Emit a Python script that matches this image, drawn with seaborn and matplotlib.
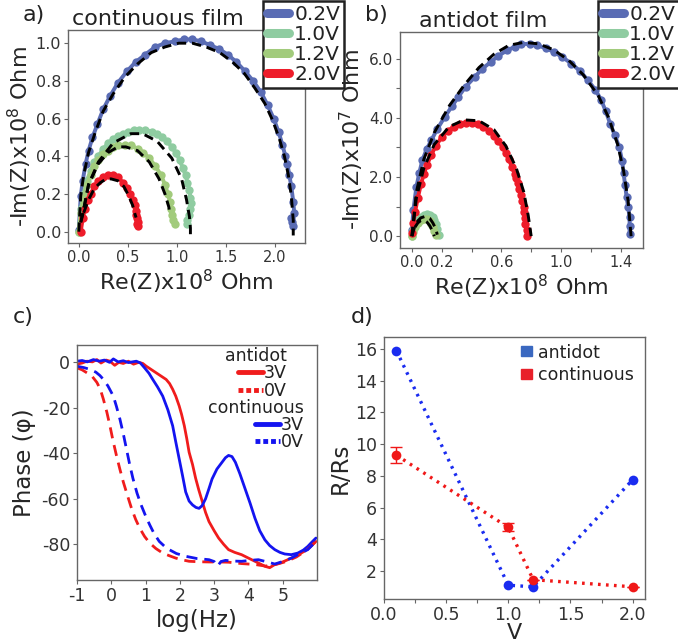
import numpy as np
import pandas as pd
import matplotlib
matplotlib.use("Agg")
import matplotlib.pyplot as plt
import seaborn as sns
from matplotlib.lines import Line2D
from matplotlib.patches import Patch

sns.set_theme(style="ticks")
plt.rcParams['font.family'] = ['DejaVu Sans', 'DejaVu Sans']
plt.rcParams['mathtext.default'] = 'regular'

# ---------------- Panel a: continuous film (x in 1e8 Ohm, y in 1e8 Ohm)
a02_x = [0.00, 0.02, 0.04, 0.07, 0.10, 0.14, 0.19, 0.25, 0.32, 0.40, 0.49, 0.58, 0.68, 0.78, 0.88, 0.98,
         1.07, 1.16, 1.25, 1.34, 1.43, 1.52, 1.61, 1.70, 1.78, 1.86, 1.93, 1.99, 2.04, 2.08, 2.11, 2.13,
         2.15, 2.17, 2.19, 2.20, 2.17, 2.18, 2.19]
a02_y = [0.01, 0.19, 0.27, 0.36, 0.43, 0.50, 0.57, 0.65, 0.72, 0.79, 0.85, 0.90, 0.94, 0.98, 1.00, 1.01,
         1.02, 1.02, 1.01, 0.99, 0.97, 0.94, 0.90, 0.85, 0.80, 0.74, 0.67, 0.60, 0.53, 0.46, 0.40, 0.36,
         0.30, 0.24, 0.16, 0.10, 0.07, 0.05, 0.03]
a02f_x = [0.00, 0.02, 0.05, 0.10, 0.17, 0.25, 0.35, 0.47, 0.60, 0.74, 0.88, 1.02, 1.16, 1.30, 1.44, 1.57,
          1.69, 1.80, 1.90, 1.98, 2.05, 2.10, 2.14, 2.17, 2.19, 2.19]
a02f_y = [0.00, 0.19, 0.30, 0.42, 0.53, 0.64, 0.73, 0.82, 0.89, 0.95, 0.98, 1.00, 1.00, 0.98, 0.95, 0.90,
          0.84, 0.76, 0.68, 0.59, 0.49, 0.40, 0.30, 0.19, 0.06, -0.02]

a10_x = [0.00, 0.02, 0.05, 0.08, 0.12, 0.16, 0.20, 0.25, 0.30, 0.35, 0.40, 0.45, 0.50, 0.56, 0.62, 0.68,
         0.75, 0.80, 0.85, 0.90, 0.95, 0.99, 1.03, 1.06, 1.09, 1.11, 1.13, 1.14, 1.15, 1.14, 1.13, 1.11, 1.10]
a10_y = [0.00, 0.12, 0.20, 0.27, 0.32, 0.37, 0.40, 0.44, 0.47, 0.49, 0.51, 0.52, 0.53, 0.54, 0.54, 0.54,
         0.53, 0.52, 0.50, 0.48, 0.45, 0.42, 0.38, 0.34, 0.30, 0.26, 0.22, 0.18, 0.15, 0.12, 0.09, 0.06, 0.04]
a10f_x = [0.02, 0.04, 0.10, 0.20, 0.35, 0.53, 0.65, 0.80, 0.95, 1.05, 1.10, 1.13, 1.14, 1.14]
a10f_y = [0.05, 0.09, 0.25, 0.37, 0.47, 0.52, 0.52, 0.48, 0.39, 0.28, 0.17, 0.08, 0.02, -0.02]

a12_x = [0.00, 0.02, 0.05, 0.08, 0.12, 0.16, 0.20, 0.25, 0.30, 0.35, 0.40, 0.47, 0.53, 0.60, 0.66, 0.72,
         0.78, 0.84, 0.88, 0.91, 0.93, 0.94, 0.95, 0.96, 0.98]
a12_y = [0.00, 0.10, 0.18, 0.25, 0.30, 0.35, 0.38, 0.41, 0.43, 0.45, 0.46, 0.46, 0.46, 0.44, 0.42, 0.39,
         0.35, 0.30, 0.25, 0.20, 0.16, 0.12, 0.09, 0.06, 0.04]
a12f_x = [0.02, 0.05, 0.10, 0.20, 0.30, 0.40, 0.48, 0.60, 0.72, 0.82, 0.88, 0.92, 0.93]
a12f_y = [0.05, 0.12, 0.25, 0.36, 0.42, 0.45, 0.45, 0.43, 0.37, 0.28, 0.20, 0.13, 0.09]

a20_x = [0.02, 0.04, 0.06, 0.09, 0.12, 0.16, 0.20, 0.25, 0.30, 0.35, 0.40, 0.45, 0.49, 0.52, 0.55, 0.57,
         0.58, 0.58, 0.59, 0.60, 0.59, 0.60]
a20_y = [0.00, 0.07, 0.12, 0.17, 0.20, 0.24, 0.27, 0.29, 0.30, 0.30, 0.29, 0.26, 0.23, 0.20, 0.17, 0.14,
         0.11, 0.09, 0.07, 0.05, 0.04, 0.03]
a20f_x = [0.05, 0.10, 0.16, 0.22, 0.28, 0.33, 0.40, 0.46, 0.51, 0.55, 0.57, 0.585]
a20f_y = [0.10, 0.17, 0.23, 0.26, 0.28, 0.28, 0.27, 0.24, 0.19, 0.14, 0.10, 0.075]

# ---------------- Panel b: antidot film (x in 1e8 Ohm, y in 1e7 Ohm)
b02_x = [0.00, 0.01, 0.03, 0.05, 0.07, 0.10, 0.13, 0.17, 0.22, 0.27, 0.31, 0.36, 0.42, 0.47, 0.53, 0.58,
         0.64, 0.69, 0.73, 0.79, 0.84, 0.90, 0.95, 1.01, 1.07, 1.13, 1.18, 1.23, 1.27, 1.30, 1.33, 1.36,
         1.39, 1.41, 1.42, 1.43, 1.44, 1.45, 1.46, 1.46, 1.46]
b02_y = [0.20, 0.90, 1.67, 2.15, 2.57, 2.95, 3.24, 3.62, 4.03, 4.40, 4.70, 5.05, 5.37, 5.65, 5.89, 6.10,
         6.28, 6.40, 6.49, 6.50, 6.45, 6.35, 6.23, 6.05, 5.83, 5.57, 5.27, 4.95, 4.60, 4.22, 3.80, 3.42,
         3.02, 2.55, 2.12, 1.72, 1.33, 0.98, 0.65, 0.35, 0.09]
b02f_x = [0.00, 0.03, 0.08, 0.15, 0.25, 0.35, 0.45, 0.55, 0.65, 0.75, 0.85, 0.95, 1.05, 1.15, 1.25, 1.32,
          1.38, 1.42, 1.45, 1.47]
b02f_y = [0.00, 1.50, 2.60, 3.50, 4.40, 5.10, 5.70, 6.15, 6.45, 6.55, 6.50, 6.30, 5.95, 5.45, 4.75, 4.00,
          3.10, 2.20, 1.20, 0.00]

b10_x = [0.00, 0.01, 0.02, 0.04, 0.06, 0.08, 0.10, 0.12, 0.14, 0.15, 0.16, 0.17, 0.18]
b10_y = [0.00, 0.20, 0.38, 0.55, 0.66, 0.73, 0.76, 0.73, 0.64, 0.55, 0.42, 0.25, 0.05]
b10f_x = [0.00, 0.02, 0.04, 0.06, 0.09, 0.12, 0.14, 0.16, 0.17]
b10f_y = [0.00, 0.35, 0.52, 0.62, 0.67, 0.60, 0.45, 0.25, 0.05]
b12_x = [0.00, 0.01, 0.02, 0.04, 0.06, 0.08, 0.10, 0.12, 0.13, 0.14, 0.15, 0.16]
b12_y = [0.00, 0.15, 0.30, 0.45, 0.54, 0.58, 0.57, 0.50, 0.40, 0.30, 0.18, 0.05]
b12f_x = [0.02, 0.04, 0.06, 0.08, 0.10, 0.12, 0.14, 0.15]
b12f_y = [0.30, 0.45, 0.53, 0.55, 0.48, 0.35, 0.15, 0.00]

b20_x = [0.00, 0.01, 0.02, 0.04, 0.06, 0.08, 0.10, 0.13, 0.16, 0.20, 0.24, 0.28, 0.32, 0.36, 0.40, 0.44,
         0.48, 0.52, 0.55, 0.58, 0.61, 0.63, 0.65, 0.67, 0.69, 0.70, 0.71, 0.72, 0.73, 0.74, 0.75, 0.75,
         0.76, 0.76, 0.77, 0.77]
b20_y = [0.10, 0.45, 0.80, 1.30, 1.75, 2.10, 2.40, 2.75, 3.05, 3.35, 3.55, 3.70, 3.78, 3.82, 3.82, 3.78,
         3.68, 3.55, 3.40, 3.22, 3.00, 2.80, 2.60, 2.35, 2.10, 1.95, 1.78, 1.60, 1.40, 1.20, 1.00, 0.80,
         0.60, 0.40, 0.20, 0.00]
b20f_x = [0.00, 0.03, 0.08, 0.15, 0.25, 0.35, 0.45, 0.55, 0.63, 0.70, 0.75, 0.78, 0.80]
b20f_y = [0.00, 1.30, 2.30, 3.10, 3.70, 3.93, 3.90, 3.60, 3.05, 2.30, 1.50, 0.70, 0.00]

# ---------------- Panel c: phase vs log frequency
c_ad3_x = [-1.0, -0.85, -0.71, -0.55, -0.42, -0.30, -0.15, -0.04, 0.10, 0.22, 0.35, 0.50, 0.65, 0.80,
           0.92, 1.02, 1.15, 1.31, 1.45, 1.60, 1.70, 1.79, 1.88, 1.98, 2.05, 2.13, 2.20, 2.27, 2.37, 2.46,
           2.55, 2.65, 2.75, 2.85, 3.00, 3.13, 3.28, 3.42, 3.60, 3.80, 4.00, 4.19, 4.35, 4.48, 4.62, 4.77,
           4.95, 5.15, 5.40, 5.63, 5.80, 5.97]
c_ad3_y = [-1.0, -0.5, 0.3, 0.0, 1.0, -0.5, 0.8, 0.3, -1.5, -0.2, -0.7, 0.3, -1.0, -0.2, -0.7, -1.9,
           -3.2, -4.8, -6.2, -7.7, -9.5, -12.0, -15.0, -19.3, -23.0, -28.0, -33.5, -39.6, -45.0, -51.0,
           -56.0, -61.0, -66.0, -70.0, -74.0, -77.2, -80.0, -82.3, -83.5, -84.5, -86.0, -87.4, -88.6,
           -89.6, -90.2, -88.8, -88.0, -86.7, -85.0, -83.0, -81.0, -78.7]
c_co3_x = [-1.0, -0.85, -0.70, -0.52, -0.35, -0.20, -0.05, 0.06, 0.20, 0.35, 0.50, 0.73, 0.85, 0.97,
           1.10, 1.21, 1.35, 1.50, 1.65, 1.79, 1.88, 1.98, 2.08, 2.17, 2.27, 2.37, 2.47, 2.56, 2.65, 2.75,
           2.85, 2.94, 3.08, 3.23, 3.33, 3.42, 3.52, 3.62, 3.75, 3.90, 4.05, 4.19, 4.33, 4.48, 4.62, 4.77,
           4.92, 5.06, 5.25, 5.44, 5.60, 5.73, 5.85, 5.97]
c_co3_y = [0.3, 0.6, 0.0, 1.0, 0.3, 0.8, -0.2, 1.3, 0.0, 0.5, -0.3, 0.3, -0.5, -2.6, -5.0, -7.7, -11.0,
           -15.0, -21.0, -28.0, -35.0, -42.5, -50.0, -57.0, -61.0, -62.7, -63.8, -64.2, -63.0, -60.0, -55.5,
           -51.3, -47.0, -44.0, -42.0, -41.0, -41.5, -44.0, -49.0, -55.5, -62.0, -68.5, -74.0, -78.0,
           -80.5, -82.3, -83.5, -84.2, -84.5, -83.8, -82.5, -80.9, -79.0, -77.2]
c_ad0_x = [-1.0, -0.85, -0.71, -0.55, -0.42, -0.32, -0.23, -0.13, -0.04, 0.05, 0.15, 0.25, 0.35, 0.47,
           0.59, 0.71, 0.83, 0.97, 1.12, 1.30, 1.50, 1.70, 1.88, 2.08, 2.27, 2.55, 2.85, 3.15, 3.42, 3.80,
           4.19, 4.50, 4.80, 5.10, 5.40, 5.70, 5.95]
c_ad0_y = [-2.6, -3.5, -4.8, -6.5, -9.0, -12.0, -16.4, -22.0, -28.0, -34.5, -41.0, -47.0, -52.6, -58.5,
           -64.2, -69.0, -72.9, -76.5, -79.4, -81.8, -83.8, -85.0, -86.0, -86.8, -87.4, -87.6, -87.7,
           -87.7, -87.8, -88.4, -88.8, -89.5, -88.8, -87.5, -85.5, -82.5, -79.0]
c_co0_x = [-1.0, -0.80, -0.62, -0.45, -0.33, -0.23, -0.10, 0.06, 0.15, 0.25, 0.35, 0.44, 0.53, 0.63, 0.75,
           0.87, 1.00, 1.12, 1.25, 1.40, 1.55, 1.69, 1.90, 2.17, 2.50, 2.85, 3.00, 3.10, 3.20, 3.33, 3.55,
           3.80, 4.05, 4.29, 4.50, 4.77, 5.00, 5.25, 5.50, 5.73, 5.97]
c_co0_y = [-1.9, -2.5, -3.3, -4.5, -6.0, -7.7, -10.5, -15.0, -19.5, -25.0, -31.5, -38.0, -44.5, -51.0,
           -57.5, -62.7, -67.5, -71.4, -75.3, -78.7, -80.8, -82.3, -84.0, -85.2, -86.2, -86.7, -87.5, -89.5,
           -87.5, -87.0, -87.3, -87.4, -87.0, -86.7, -87.5, -88.6, -87.5, -86.0, -84.0, -82.3, -78.7]

# ---------------- Panel d: R/Rs vs V
d_v = [0.1, 1.0, 1.2, 2.0]
d_antidot = [15.9, 1.1, 1.0, 7.75]
d_cont = [9.3, 4.75, 1.45, 1.0]
d_cont_err = [0.5, 0.25, 0.0, 0.0]

volt_labels = ['0.2V', '1.0V', '1.2V', '2.0V']
c_blue, c_g1, c_g2, c_red = '#5a6cb4', '#8fcca1', '#a2cb7c', '#ee1c2a'
nyq_colors = [c_blue, c_g1, c_g2, c_red]

W, H = 678, 642
fig = plt.figure(figsize=(W / 100, H / 100), dpi=100)


def add_axes(l, t, r, b):
    return fig.add_axes([l / W, 1 - b / H, (r - l) / W, (b - t) / H])


axa = add_axes(68, 30, 305, 243)
axb = add_axes(400, 32, 643, 248)
axc = add_axes(77, 345, 317, 580)
axd = add_axes(384, 337, 645, 599)

spine_col = '#666666'
for ax in (axa, axb, axc, axd):
    for s in ax.spines.values():
        s.set_visible(True)
        s.set_color(spine_col)
        s.set_linewidth(1.0)
    ax.tick_params(length=3, width=0.8, color=spine_col, labelcolor='#333333', pad=2)


def data_curve(ax, xs, ys, color):
    sns.lineplot(x=xs, y=ys, sort=False, estimator=None, ax=ax, color=color, lw=2.8,
                 marker='o', markersize=6, markeredgewidth=0, legend=False, zorder=2)


def fit_curve(ax, xs, ys):
    sns.lineplot(x=xs, y=ys, sort=False, estimator=None, ax=ax, color='black', lw=2.1,
                 linestyle=(0, (3.2, 2.0)), legend=False, zorder=3)


# panel a
for (xs, ys), col in zip([(a02_x, a02_y), (a10_x, a10_y), (a12_x, a12_y), (a20_x, a20_y)], nyq_colors):
    data_curve(axa, xs, ys, col)
for xs, ys in [(a02f_x, a02f_y), (a10f_x, a10f_y), (a12f_x, a12f_y), (a20f_x, a20f_y)]:
    fit_curve(axa, xs, ys)
axa.set_xlim(-0.11, 2.31)
axa.set_ylim(-0.06, 1.07)
axa.set_xticks([0.0, 0.5, 1.0, 1.5, 2.0])
axa.set_yticks([0.0, 0.2, 0.4, 0.6, 0.8, 1.0])
axa.set_xticklabels(['0.0', '0.5', '1.0', '1.5', '2.0'], fontsize=10.5)
axa.set_yticklabels(['0.0', '0.2', '0.4', '0.6', '0.8', '1.0'], fontsize=11.5)
axa.set_xlabel('Re(Z)x10$^8$ Ohm', fontsize=16, labelpad=2)
axa.set_ylabel('-Im(Z)x10$^8$ Ohm', fontsize=16, labelpad=1)

# panel b
for (xs, ys), col in zip([(b02_x, b02_y), (b10_x, b10_y), (b12_x, b12_y), (b20_x, b20_y)], nyq_colors):
    data_curve(axb, xs, ys, col)
for xs, ys in [(b02f_x, b02f_y), (b10f_x, b10f_y), (b12f_x, b12f_y), (b20f_x, b20f_y)]:
    fit_curve(axb, xs, ys)
axb.set_xlim(-0.08, 1.55)
axb.set_ylim(-0.4, 6.9)
axb.set_xticks([0.0, 0.2, 0.4, 0.6, 0.8, 1.0, 1.2, 1.4])
axb.set_xticklabels(['0.0', '0.2', '', '0.6', '', '1.0', '', '1.4'], fontsize=10.5)
axb.set_yticks([0, 1, 2, 3, 4, 5, 6])
axb.set_yticklabels(['0.0', '', '2.0', '', '4.0', '', '6.0'], fontsize=11)
axb.set_xlabel('Re(Z)x10$^8$ Ohm', fontsize=16, labelpad=2)
axb.set_ylabel('-Im(Z)x10$^7$ Ohm', fontsize=16, labelpad=2)

# legends a, b
leg_handles = [Line2D([], [], color=c, lw=6.5) for c in nyq_colors]
for ax, x0 in ((axa, 263), (axb, 598)):
    lg = ax.legend(leg_handles, volt_labels, loc='upper left', bbox_to_anchor=(x0 / W, 1 - 1 / H),
                   bbox_transform=fig.transFigure, borderaxespad=0, fontsize=14.5, handlelength=1.1,
                   handletextpad=0.25, labelspacing=0.05, borderpad=0.2, frameon=True,
                   fancybox=False, framealpha=1.0)
    lg.get_frame().set_edgecolor('#222222')
    lg.get_frame().set_linewidth(1.8)
    lg.set_zorder(10)
    for t in lg.get_texts():
        t.set_color('#222222')

# panel c
c_red, c_blue2 = '#f01c1c', '#1414f0'
sns.lineplot(x=c_ad3_x, y=c_ad3_y, sort=False, estimator=None, ax=axc, color=c_red, lw=2.0, legend=False)
sns.lineplot(x=c_co3_x, y=c_co3_y, sort=False, estimator=None, ax=axc, color=c_blue2, lw=2.0, legend=False)
sns.lineplot(x=c_ad0_x, y=c_ad0_y, sort=False, estimator=None, ax=axc, color=c_red, lw=2.0,
             linestyle=(0, (4, 2.5)), legend=False)
sns.lineplot(x=c_co0_x, y=c_co0_y, sort=False, estimator=None, ax=axc, color=c_blue2, lw=2.0,
             linestyle=(0, (4, 2.5)), legend=False)
axc.set_xlim(-1, 6)
axc.set_ylim(-95.6, 7.4)
axc.set_xticks([-1, 0, 1, 2, 3, 4, 5])
axc.set_xticklabels(['-1', '0', '1', '2', '3', '4', '5'], fontsize=12.5)
axc.set_yticks([0, -20, -40, -60, -80])
axc.set_yticklabels(['0', '-20', '-40', '-60', '-80'], fontsize=12.5)
axc.set_xlabel('log(Hz)', fontsize=16.5, labelpad=3)
axc.set_ylabel('Phase (\u03c6)', fontsize=16.5, labelpad=4)

lg1 = axc.legend([Line2D([], [], color=c_red, lw=3.5), Line2D([], [], color=c_red, lw=3.5, ls=(0, (1, 0.6)))],
                 ['3V', '0V'], title='antidot', loc='upper center', bbox_to_anchor=(0.745, 0.99),
                 frameon=False, fontsize=12.5, title_fontsize=12.5, handlelength=1.45, handletextpad=0.05,
                 labelspacing=-0.05, borderpad=0, borderaxespad=0)
axc.add_artist(lg1)
lg2 = axc.legend([Line2D([], [], color=c_blue2, lw=3.5), Line2D([], [], color=c_blue2, lw=3.5, ls=(0, (1, 0.6)))],
                 ['3V', '0V'], title='continuous', loc='upper center', bbox_to_anchor=(0.745, 0.772),
                 frameon=False, fontsize=12.5, title_fontsize=12.5, handlelength=1.45, handletextpad=0.05,
                 labelspacing=-0.05, borderpad=0, borderaxespad=0)
for lg in (lg1, lg2):
    lg._legend_box.align = 'right'
    lg.get_title().set_color('#222222')
    for t in lg.get_texts():
        t.set_color('#222222')

# panel d
d_blue, d_red = '#1a2cf0', '#f01818'
sns.lineplot(x=d_v, y=d_antidot, sort=False, estimator=None, ax=axd, color=d_blue, lw=2.4,
             linestyle=(0, (0.8, 1.6)), marker='o', markersize=7, markeredgewidth=0, legend=False)
sns.lineplot(x=d_v, y=d_cont, sort=False, estimator=None, ax=axd, color=d_red, lw=2.4,
             linestyle=(0, (0.8, 1.6)), marker='o', markersize=7, markeredgewidth=0, legend=False)
axd.errorbar(d_v, d_cont, yerr=d_cont_err, fmt='none', ecolor=d_red, elinewidth=1.0, capsize=4, capthick=1.0)
axd.set_xlim(0.0, 2.1)
axd.set_ylim(0.23, 16.76)
axd.set_xticks([0.0, 0.25, 0.5, 0.75, 1.0, 1.25, 1.5, 1.75, 2.0])
axd.set_xticklabels(['0.0', '', '0.5', '', '1.0', '', '1.5', '', '2.0'], fontsize=12.5)
axd.set_yticks([2, 4, 6, 8, 10, 12, 14, 16])
axd.set_yticklabels(['2', '4', '6', '8', '10', '12', '14', '16'], fontsize=12.5)
axd.set_xlabel('V', fontsize=16, labelpad=-1)
axd.set_ylabel('R/Rs', fontsize=16.5, labelpad=2)
lgd = axd.legend([Patch(color='#3a68c0'), Patch(color='#e8202a')], ['antidot', 'continuous'],
                 loc='upper left', bbox_to_anchor=(0.525, 0.975), frameon=False, fontsize=12.5,
                 handlelength=0.65, handleheight=0.5, handletextpad=0.3, labelspacing=0.25,
                 borderpad=0, borderaxespad=0)
for t in lgd.get_texts():
    t.set_color('#222222')

# panel labels and titles
fig.text(23 / W, 1 - 21 / H, 'a)', fontsize=16, va='baseline', color='#222222')
fig.text(365 / W, 1 - 21 / H, 'b)', fontsize=16, va='baseline', color='#222222')
fig.text(13 / W, 1 - 323 / H, 'c)', fontsize=16, va='baseline', color='#222222')
fig.text(351 / W, 1 - 323 / H, 'd)', fontsize=16, va='baseline', color='#222222')
fig.text(158 / W, 1 - 25 / H, 'continuous film', fontsize=16, va='baseline', ha='center', color='#222222')
fig.text(483 / W, 1 - 27 / H, 'antidot film', fontsize=16, va='baseline', ha='center', color='#222222')

fig.savefig('out.png', dpi=100)
